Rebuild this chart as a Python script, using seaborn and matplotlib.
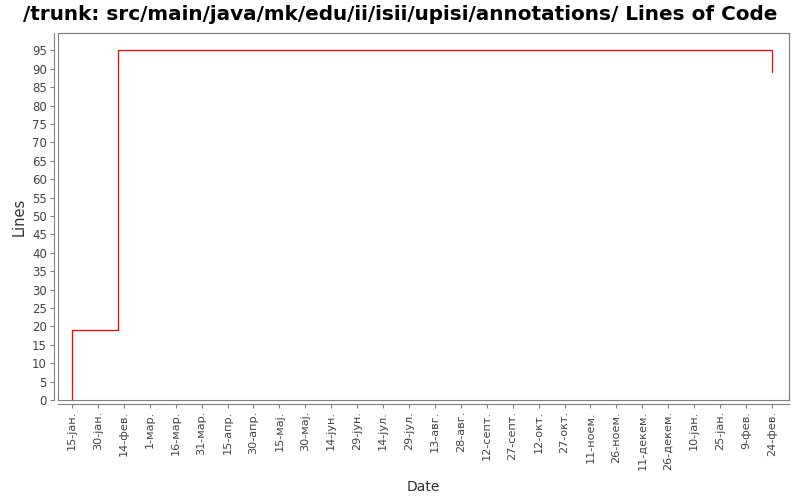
import matplotlib
matplotlib.use("Agg")
import matplotlib.pyplot as plt
import seaborn as sns
import pandas as pd
from matplotlib.patches import Rectangle

# Data: days since 15-јан. (step series)
day_offsets = [0, 0, 26.6, 405]
line_counts = [0, 19, 95, 89]

tick_labels = ["15-јан.", "30-јан.", "14-фев.", "1-мар.", "16-мар.", "31-мар.",
               "15-апр.", "30-апр.", "15-мај.", "30-мај.", "14-јун.", "29-јун.",
               "14-јул.", "29-јул.", "13-авг.", "28-авг.", "12-септ.", "27-септ.",
               "12-окт.", "27-окт.", "11-ноем.", "26-ноем.", "11-декем.", "26-декем.",
               "10-јан.", "25-јан.", "9-фев.", "24-фев."]
tick_days = [15 * i for i in range(len(tick_labels))]
y_ticks = list(range(0, 96, 5))

title = "/trunk: src/main/java/mk/edu/ii/isii/upisi/annotations/ Lines of Code"

sns.set_theme(style="white")
plt.rcParams['font.family'] = ['DejaVu Sans']

df = pd.DataFrame({"day": day_offsets, "lines": line_counts})

fig = plt.figure(figsize=(8, 5), dpi=100)
ax = fig.add_axes([58/800, 1-400/500, (789-58)/800, (400-33)/500])

for s in ["top", "right"]:
    ax.spines[s].set_visible(True)
    ax.spines[s].set_color("#808080")
    ax.spines[s].set_linewidth(0.8)
for s in ["left", "bottom"]:
    ax.spines[s].set_position(("outward", 3))
    ax.spines[s].set_color("#808080")
    ax.spines[s].set_linewidth(0.8)

sns.lineplot(data=df, x="day", y="lines", ax=ax, color="red", linewidth=0.9,
             drawstyle="steps-post", estimator=None, sort=False)

ax.set_xlim(-8.1, 414.9)
ax.set_ylim(0, 99.7)
ax.tick_params(axis="both", which="major", direction="out", length=3, width=0.8,
               color="#808080", pad=2, left=True, bottom=True)
ax.set_xticks(tick_days)
ax.set_xticklabels(tick_labels, rotation=90, fontsize=8.1, color="#444444")
ax.set_yticks(y_ticks)
ax.set_yticklabels([str(v) for v in y_ticks], fontsize=8.5, color="#444444")
ax.set_xlabel("Date", fontsize=10, color="#333333", labelpad=7)
ax.set_ylabel("Lines", fontsize=10.5, color="#333333", labelpad=4)

ax.add_patch(Rectangle((0, 0), 1, 1, transform=ax.transAxes, fill=False,
                       edgecolor="#808080", linewidth=0.8, clip_on=False, zorder=5))

fig.text(0.5, 1-14/500, title, ha="center", va="center", fontsize=14.4,
         fontweight="bold", color="black")

fig.savefig("out.png", dpi=100, facecolor="white")
